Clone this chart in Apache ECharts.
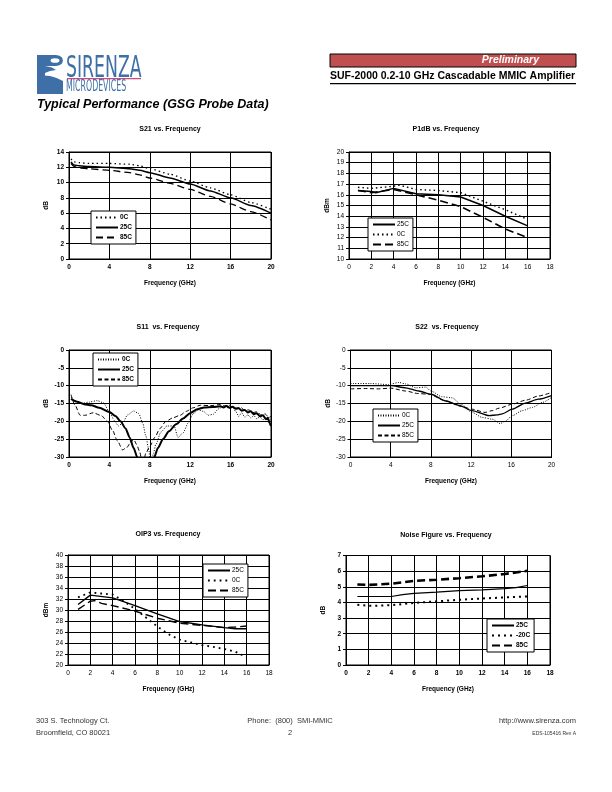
<!DOCTYPE html>
<html><head><meta charset="utf-8">
<script src="https://cdn.jsdelivr.net/npm/echarts@6/dist/echarts.min.js"></script>
<style>html,body{margin:0;padding:0;background:#fff}#c{width:612px;height:792px}</style>
</head><body><div id="c"></div>
<script>
// ---------- DATA ----------
// S21 (dB) vs frequency (GHz)
const s21_0C  = [[0.2,13.1],[0.5,12.7],[1,12.6],[2,12.5],[4,12.5],[6,12.4],[7,12.2],[8,11.8],[10,11.1],[12,10.2],[14,9.3],[16,8.4],[18,7.4],[20,6.5]];
const s21_25C = [[0.2,12.7],[0.5,12.3],[1,12.2],[2,12.1],[4,12.0],[6,11.8],[7,11.6],[8,11.3],[10,10.6],[12,9.8],[14,8.9],[16,8.0],[18,7.0],[20,6.0]];
const s21_85C = [[0.2,12.5],[0.5,12.1],[1,11.9],[2,11.8],[4,11.6],[6,11.3],[7,11.0],[8,10.6],[10,9.9],[12,9.1],[14,8.2],[16,7.2],[18,6.2],[20,5.1]];
// P1dB (dBm)
const p1_25C = [[0.8,16.4],[2,16.3],[2.4,16.2],[4,16.6],[6,16.1],[8,16.0],[10,15.8],[12,15.0],[14,14.0],[16,13.1]];
const p1_0C  = [[0.8,16.7],[2,16.6],[4,16.8],[4.5,16.9],[6,16.5],[8,16.4],[10,16.2],[12,15.4],[14,14.6],[16,13.7]];
const p1_85C = [[0.8,16.4],[2,16.2],[4,16.5],[6,16.0],[8,15.5],[10,14.9],[12,13.9],[14,12.8],[16,12.0]];
// S11 (dB)
const s11_0C = [[0.2,-13.2],[0.6,-14.2],[1.2,-15],[2,-14.6],[2.8,-14.2],[3.4,-14.8],[4,-17.3],[4.5,-19.8],[4.9,-21.3],[5.3,-20.5],[5.8,-18.2],[6.4,-17.1],[6.9,-17.8],[7.3,-20.5],[7.6,-24],[7.9,-28],[8.1,-32],[8.2,-32],[8.35,-29],[8.6,-26.5],[9.1,-23],[9.7,-21.3],[10.4,-21.3],[10.8,-24.5],[11.3,-23.2],[11.8,-20.5],[12.3,-17.8],[12.8,-16.8],[13.3,-17.2],[13.8,-18.3],[14.3,-18],[14.8,-16.5],[15.4,-15.6],[15.8,-16.3],[16.2,-15.9],[16.5,-17.2],[16.8,-18.6],[17.1,-17.6],[17.4,-18.8],[17.7,-18.2],[18,-19],[18.3,-18.4],[18.6,-19.3],[18.9,-18.7],[19.2,-19.6],[19.5,-19],[19.8,-20],[20,-19.4]];
const s11_25C = [[0.2,-13.7],[0.8,-14.5],[1.5,-15.2],[2.2,-15.5],[3,-16.2],[4,-17.4],[4.6,-18.5],[5.1,-20],[5.6,-22],[6.0,-24.5],[6.4,-27.5],[6.75,-30],[7.2,-33],[7.8,-34],[8.2,-32],[8.45,-30],[8.8,-27.5],[9.3,-25],[9.9,-22.8],[10.6,-20.8],[11.3,-19.2],[12,-17.7],[12.7,-16.6],[13.4,-16.1],[14.2,-16],[15,-15.8],[15.3,-16.1],[15.6,-15.7],[15.9,-16.2],[16.2,-15.9],[16.5,-16.5],[16.8,-16.3],[17.1,-17],[17.4,-16.8],[17.7,-17.5],[18,-17.2],[18.3,-18],[18.6,-17.7],[18.9,-18.6],[19.2,-18.3],[19.5,-19.4],[19.7,-19],[19.85,-20.5],[20,-21.3]];
const s11_85C = [[0.2,-12.5],[0.6,-15.5],[1.1,-18.3],[1.6,-18.3],[2.4,-17.6],[3.2,-18.4],[3.8,-20],[4.3,-22.5],[4.8,-25.5],[5.3,-28],[5.7,-27.4],[6.1,-26],[6.4,-25],[6.7,-26.5],[7.0,-28.5],[7.2,-31],[7.4,-31],[7.6,-29],[8.0,-27],[8.5,-24.5],[9.0,-22],[9.6,-20],[10.3,-19],[11,-18.3],[11.6,-17.2],[12.3,-16.2],[13,-15.5],[14,-15.6],[15,-15.3],[15.4,-15.7],[15.8,-15.4],[16.2,-16],[16.6,-16.3],[17,-16.1],[17.4,-16.9],[17.8,-16.8],[18.2,-17.6],[18.6,-17.3],[19,-18.2],[19.4,-17.9],[19.8,-18.9],[20,-18.6]];
// S22 (dB)
const s22_0C  = [[0,-9.4],[2,-9.4],[3.8,-9.7],[4.8,-9.1],[5.5,-9.5],[6.5,-10.6],[7.5,-10.4],[8,-11.5],[9.1,-13.1],[10.1,-13.4],[11,-15.2],[12.1,-17.5],[13.1,-18.9],[14.1,-19.4],[14.9,-20.6],[15.4,-20],[16.1,-18.4],[17.1,-17],[18.1,-16.1],[19.1,-14.7],[20,-13.3]];
const s22_25C = [[0,-10],[2,-10],[4,-10],[5.5,-10.6],[6.8,-11.5],[8,-12.4],[9.5,-14.3],[10.8,-15.5],[12.1,-17],[13.8,-18.4],[14.6,-18.2],[15.1,-17.9],[16.1,-16.6],[17.4,-14.9],[18.7,-13.8],[20,-12.8]];
const s22_85C = [[0,-10.9],[1.5,-10.8],[2.8,-10.9],[4,-10.7],[5.5,-11.5],[6.7,-12.2],[7.8,-12.4],[9.5,-14.3],[11,-15.8],[12.1,-16.6],[13.4,-17.5],[14.1,-17],[14.8,-16.3],[16.1,-15.2],[17.4,-14.1],[18.7,-12.9],[20,-11.9]];
// OIP3 (dBm)
const oip_25C = [[0.9,31.0],[2,32.7],[4,32.2],[6,30.8],[8,29.3],[10,27.9],[12,27.3],[14,26.8],[15,26.6],[16,26.6]];
const oip_0C  = [[0.9,32.3],[2,33.2],[3,33.0],[4,32.8],[5,31.6],[6,30.2],[7,28.6],[8,27.0],[9,25.6],[10,24.6],[11,24.1],[12,23.6],[13,23.3],[14,22.9],[15,22.4],[16,21.4]];
const oip_85C = [[0.9,30.1],[2,31.6],[2.4,31.7],[3,31.2],[4,30.8],[6,29.8],[8,28.5],[10,27.6],[12,27.2],[14,26.8],[15,26.9],[16,27.1]];
// Noise figure (dB)
const nf_25C  = [[1,4.38],[2,4.38],[3,4.38],[4,4.38],[5,4.5],[6,4.58],[8,4.66],[10,4.75],[12,4.8],[14,4.88],[15,4.95],[16,5.08]];
const nf_m20C = [[1,3.85],[2,3.78],[3,3.8],[4,3.82],[6,3.97],[8,4.07],[10,4.17],[12,4.25],[14,4.32],[16,4.38]];
const nf_85C  = [[1,5.15],[2,5.12],[4,5.2],[6,5.38],[8,5.45],[10,5.55],[12,5.67],[14,5.82],[16,6.02]];

// ---------- LAYOUT ----------
const FONT = '"Liberation Sans", Arial, sans-serif';
const charts = [
  {title:'S21 vs. Frequency', grid:{left:69,top:152,width:202,height:107}, x:[0,20,4], y:[0,14,2], yName:'dB', tx:170, ty:129,
   legend:{left:91,top:211}, bold:true, smooth:0.2,
   series:[['0C',s21_0C,[1.5,3],1.3],['25C',s21_25C,'solid',1.5],['85C',s21_85C,[7,4],1.3]]},
  {title:'P1dB vs. Frequency', grid:{left:349,top:152,width:201,height:107}, x:[0,18,2], y:[10,20,1], yName:'dBm', tx:446, ty:129,
   legend:{left:368,top:218}, bold:false, smooth:0,
   series:[['25C',p1_25C,'solid',1.5],['0C',p1_0C,[1.5,3],1.4],['85C',p1_85C,[8,4],1.6]]},
  {title:'S11  vs. Frequency', grid:{left:69,top:350,width:202,height:107}, x:[0,20,4], y:[-30,0,5], yName:'dB', tx:168, ty:327,
   legend:{left:93,top:353}, bold:true, smooth:0.25,
   series:[['0C',s11_0C,[1,1.5],1],['25C',s11_25C,'solid',2],['85C',s11_85C,[4,2.5],1]]},
  {title:'S22  vs. Frequency', grid:{left:350.5,top:350,width:201,height:107}, x:[0,20,4], y:[-30,0,5], yName:'dB', tx:447, ty:327,
   legend:{left:373,top:409}, bold:false, smooth:0.25,
   series:[['0C',s22_0C,[1,1.5],1],['25C',s22_25C,'solid',1.3],['85C',s22_85C,[4,2.5],1]]},
  {title:'OIP3 vs. Frequency', grid:{left:68,top:555,width:201,height:110}, x:[0,18,2], y:[20,40,2], yName:'dBm', tx:168, ty:534,
   legend:{left:203,top:564}, bold:false, smooth:0,
   series:[['25C',oip_25C,'solid',1.4],['0C',oip_0C,[1.8,4],1.8],['85C',oip_85C,[8,4],1.4]]},
  {title:'Noise Figure vs. Frequency', grid:{left:346,top:555.5,width:204,height:109.5}, x:[0,18,2], y:[0,7,1], yName:'dB', tx:446, ty:535,
   legend:{left:487,top:619}, bold:true, smooth:0,
   series:[['25C',nf_25C,'solid',1.2],['-20C',nf_m20C,[2,4],2],['85C',nf_85C,[8,4],2.6]]}
];

const grid=[], xAxis=[], yAxis=[], series=[], legend=[], graphic=[];
charts.forEach((c,i)=>{
  const fw = c.bold ? 'bold' : 'normal';
  grid.push(Object.assign({show:true,borderColor:'#000',borderWidth:1,containLabel:false}, c.grid));
  xAxis.push({type:'value',gridIndex:i,min:c.x[0],max:c.x[1],interval:c.x[2],
    axisLine:{show:true,onZero:false,lineStyle:{color:'#000',width:1}},axisTick:{show:false},
    axisLabel:{color:'#000',fontSize:6.5,fontFamily:FONT,fontWeight:fw,margin:5},
    splitLine:{show:true,lineStyle:{color:'#000',width:1}},
    name:'Frequency (GHz)',nameLocation:'middle',nameGap:21,
    nameTextStyle:{color:'#000',fontSize:6.5,fontFamily:FONT,fontWeight:'bold'}});
  yAxis.push({type:'value',gridIndex:i,min:c.y[0],max:c.y[1],interval:c.y[2],
    axisLine:{show:true,onZero:false,lineStyle:{color:'#000',width:1}},
    axisTick:{show:true,inside:false,length:3,lineStyle:{color:'#000'}},
    axisLabel:{color:'#000',fontSize:6.5,fontFamily:FONT,fontWeight:fw,margin:5},
    splitLine:{show:true,lineStyle:{color:'#000',width:1}},
    name:c.yName,nameLocation:'middle',nameGap:c.yName==='dBm'?18:19,nameRotate:90,
    nameTextStyle:{color:'#000',fontSize:6.5,fontFamily:FONT,fontWeight:'bold'}});
  const names=[];
  c.series.forEach(s=>{
    const nm = i+'|'+s[0];
    names.push(nm);
    series.push({type:'line',name:nm,xAxisIndex:i,yAxisIndex:i,data:s[1],symbol:'none',
      smooth:c.smooth,smoothMonotone:'x',clip:true,animation:false,
      lineStyle:{color:'#000',width:s[3],type:s[2]},itemStyle:{color:'#000'}});
  });
  legend.push({left:c.legend.left,top:c.legend.top,orient:'vertical',data:names,
    formatter:n=>n.split('|')[1],itemWidth:22,itemHeight:6,itemGap:3,
    padding:[3,4,3,4],borderColor:'#000',borderWidth:1,backgroundColor:'#fff',
    selectedMode:false,
    itemStyle:{color:'rgba(0,0,0,0)',borderWidth:0,opacity:0},
    textStyle:{color:'#000',fontSize:6.5,fontFamily:FONT,fontWeight:fw,padding:[0,0,0,-3]}});
  graphic.push({type:'text',x:c.tx,y:c.ty,style:{text:c.title,fill:'#000',
    font:'bold 7px '+FONT,textAlign:'center',textVerticalAlign:'middle'}});
});

// page decorations
const BLUE='#3e6fa6';
graphic.push(
  // logo icon
  {type:'rect',shape:{x:37,y:55,width:8,height:39},style:{fill:BLUE}},
  {type:'polygon',shape:{points:[[45,55],[56,55],[59.5,55.7],[62,57.5],[63,60.5],[62,63.5],[59.5,65.3],[56,66],[45,66]]},style:{fill:BLUE}},
  {type:'circle',x:55,y:60.5,scaleX:1.9,shape:{cx:0,cy:0,r:2.3},style:{fill:'#fff'}},
  {type:'polygon',shape:{points:[[37,76],[44,75.5],[50,76],[56,77.8],[63,81],[63,94],[37,94]]},style:{fill:BLUE}},
  {type:'polygon',shape:{points:[[45,66],[52,67.5],[56,70],[50,71],[45,73]]},style:{fill:BLUE}},
  {type:'text',x:66,y:53,scaleX:0.62,style:{text:'SIRENZA',fill:BLUE,font:'31px "DejaVu Sans Condensed", "DejaVu Sans", sans-serif',textVerticalAlign:'top'}},
  {type:'rect',shape:{x:67,y:78,width:74,height:1.2},style:{fill:'#d2467a'}},
  {type:'text',x:66,y:80,scaleX:0.58,style:{text:'MICRODEVICES',fill:BLUE,font:'15px "DejaVu Sans Condensed", "DejaVu Sans", sans-serif',textVerticalAlign:'top'}},
  {type:'text',x:37,y:105,style:{text:'Typical Performance (GSG Probe Data)',fill:'#000',font:'italic bold 12.5px '+FONT,textVerticalAlign:'middle'}},
  // header box
  {type:'rect',shape:{x:330,y:54,width:246,height:13},style:{fill:'#c0504f',stroke:'#000',lineWidth:1}},
  {type:'text',x:539,y:60.5,style:{text:'Preliminary',fill:'#fff',font:'italic bold 10.5px '+FONT,textAlign:'right',textVerticalAlign:'middle'}},
  {type:'text',x:330,y:76,style:{text:'SUF-2000 0.2-10 GHz Cascadable MMIC Amplifier',fill:'#000',font:'bold 10.5px '+FONT,textVerticalAlign:'middle'}},
  {type:'rect',shape:{x:330,y:83,width:246,height:1.3},style:{fill:'#000'}},
  // footer
  {type:'text',x:36,y:721,style:{text:'303 S. Technology Ct.',fill:'#333',font:'7.5px '+FONT,textVerticalAlign:'middle'}},
  {type:'text',x:36,y:733,style:{text:'Broomfield, CO 80021',fill:'#333',font:'7.5px '+FONT,textVerticalAlign:'middle'}},
  {type:'text',x:290,y:721,style:{text:'Phone:  (800)  SMI-MMIC',fill:'#333',font:'7.5px '+FONT,textAlign:'center',textVerticalAlign:'middle'}},
  {type:'text',x:290,y:733,style:{text:'2',fill:'#333',font:'7.5px '+FONT,textAlign:'center',textVerticalAlign:'middle'}},
  {type:'text',x:576,y:721,style:{text:'http://www.sirenza.com',fill:'#333',font:'7.5px '+FONT,textAlign:'right',textVerticalAlign:'middle'}},
  {type:'text',x:576,y:734,style:{text:'EDS-105416 Rev A',fill:'#333',font:'5px '+FONT,textAlign:'right',textVerticalAlign:'middle'}}
);

const chart = echarts.init(document.getElementById('c'),null,{renderer:'canvas'});
chart.setOption({animation:false,backgroundColor:'#fff',grid,xAxis,yAxis,series,legend,graphic});
</script></body></html>
